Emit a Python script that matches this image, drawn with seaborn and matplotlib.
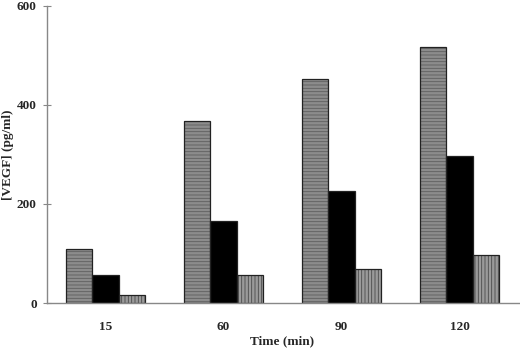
import matplotlib
matplotlib.use("Agg")
import matplotlib.pyplot as plt
import seaborn as sns
import pandas as pd

times = ["15", "60", "90", "120"]
series_names = ["Series 1", "Series 2", "Series 3"]
series1 = [109, 368, 452, 517]
series2 = [57, 166, 226, 296]
series3 = [16, 56, 69, 97]

rows = []
for name, vals in zip(series_names, [series1, series2, series3]):
    for t, v in zip(times, vals):
        rows.append({"Time": t, "Series": name, "VEGF": v})
df = pd.DataFrame(rows)

sns.set_theme(style="white")
plt.rcParams["font.family"] = ["Liberation Serif", "DejaVu Serif"]
plt.rcParams["hatch.linewidth"] = 0.6

fig = plt.figure(figsize=(5.2, 3.48), dpi=100)
ax = fig.add_axes([46.5 / 520, 45 / 348, 472 / 520, 297 / 348])

faces = ["#8c8c8c", "#000000", "#9a9a9a"]
hatch_cols = ["#5e5e5e", "#000000", "#4a4a4a"]
hatches = ["-----", "", "|||||"]

sns.barplot(data=df, x="Time", y="VEGF", hue="Series", order=times,
            hue_order=series_names, palette=faces, width=0.675,
            saturation=1, legend=False, ax=ax, errorbar=None)
for i, cont in enumerate(ax.containers):
    for p in cont:
        p.set_facecolor(faces[i])
        p.set_edgecolor(hatch_cols[i])
        p.set_hatch(hatches[i])
        p.set_linewidth(0)

# outlines
sns.barplot(data=df, x="Time", y="VEGF", hue="Series", order=times,
            hue_order=series_names, width=0.675, fill=False,
            legend=False, ax=ax, errorbar=None)
n = len(series_names)
for cont in ax.containers[n:]:
    for p in cont:
        p.set_edgecolor("#222222")
        p.set_linewidth(0.9)
        p.set_hatch(None)

ax.set_xlim(-0.5, 3.5)
ax.set_ylim(0, 600)
ax.set_yticks([0, 200, 400, 600])
for s in ["top", "right"]:
    ax.spines[s].set_visible(False)
for s in ["left", "bottom"]:
    ax.spines[s].set_color("#888888")
    ax.spines[s].set_linewidth(1.0)

ax.tick_params(axis="y", direction="inout", length=6, width=0.8, color="#888888",
               left=True, labelsize=9.5, pad=4)
ax.tick_params(axis="x", length=0, labelsize=9.5, pad=13)
for lab in ax.get_xticklabels() + ax.get_yticklabels():
    lab.set_fontweight("bold")

ax.set_xlabel("Time (min)", fontsize=9.5, fontweight="bold", va="center")
ax.xaxis.set_label_coords(0.5, (303 - 341) / 297)
ax.set_ylabel("[VEGF] (pg/ml)", fontsize=9.5, fontweight="bold", va="center")
ax.yaxis.set_label_coords((8 - 46.5) / 472, 0.5)

fig.savefig("out.png", dpi=100)
